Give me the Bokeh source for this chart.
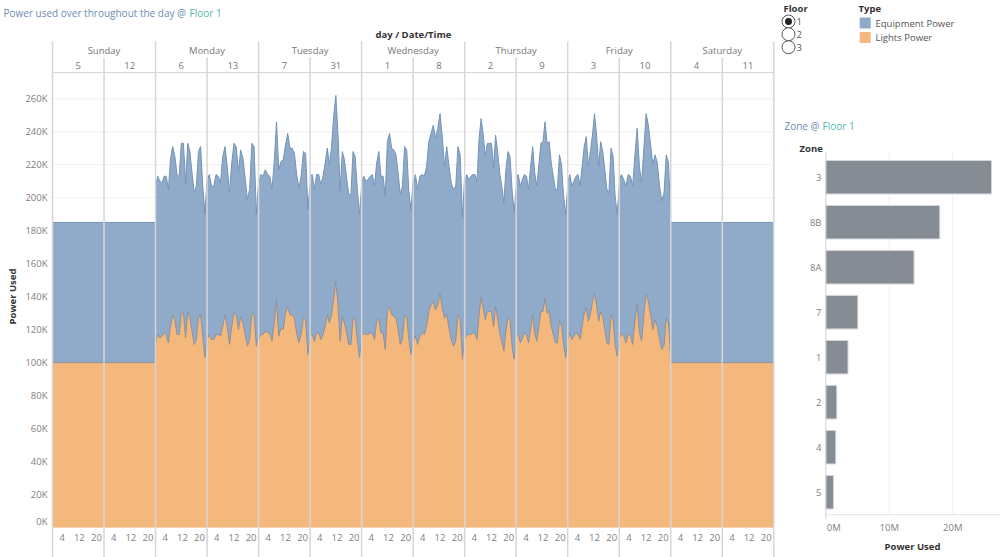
import numpy as np
from bokeh.plotting import figure
from bokeh.models import Range1d
from bokeh.layouts import row
from bokeh.embed import file_html
from bokeh.resources import INLINE
from bokeh.core.properties import value

# ---------------- data ----------------
days = ["Sunday", "Monday", "Tuesday", "Wednesday", "Thursday", "Friday", "Saturday"]
dates = ["5", "12", "6", "13", "7", "31", "1", "8", "2", "9", "3", "10", "4", "11"]
hour_ticks = [4, 12, 20]

# Power used (K) per panel: total (equipment + lights) and lights
sun5_total = [185, 185]
sun5_lights = [100, 100]
sun12_total = [185, 185]
sun12_lights = [100, 100]
mon6_total = [207, 213, 210, 209, 213, 213, 205, 224, 231, 225, 214, 213, 233, 233, 208, 233, 228, 215, 203, 207, 228, 231, 207, 190, 211]
mon6_lights = [112, 117, 115, 116, 118, 117, 112, 122, 129, 126, 117, 117, 130, 130, 115, 131, 127, 119, 111, 114, 127, 129, 116, 103, 116]
mon13_total = [211, 214, 207, 207, 214, 213, 209, 225, 231, 219, 203, 221, 233, 231, 216, 229, 224, 212, 199, 205, 233, 231, 190, 209]
mon13_lights = [114, 117, 114, 114, 117, 117, 116, 122, 129, 122, 111, 122, 130, 129, 120, 128, 124, 117, 110, 114, 130, 129, 110, 116]
tue7_total = [208, 214, 213, 217, 214, 213, 205, 222, 246, 217, 222, 223, 232, 239, 230, 230, 227, 214, 206, 213, 228, 227, 193, 208]
tue7_lights = [114, 117, 117, 119, 118, 118, 113, 124, 138, 116, 121, 120, 130, 134, 129, 129, 127, 118, 112, 117, 127, 126, 105, 114]
tue31_total = [213, 214, 205, 214, 214, 208, 213, 221, 230, 220, 231, 250, 262, 238, 204, 228, 223, 212, 202, 202, 228, 225, 205, 190, 207]
tue31_lights = [117, 117, 113, 118, 118, 114, 117, 122, 129, 124, 129, 139, 149, 135, 113, 128, 124, 118, 111, 111, 127, 126, 114, 103, 114]
wed1_total = [209, 213, 210, 211, 213, 214, 207, 221, 228, 213, 213, 201, 234, 239, 230, 229, 226, 215, 202, 207, 231, 229, 204, 192, 211]
wed1_lights = [116, 118, 117, 117, 118, 118, 114, 125, 127, 118, 118, 108, 131, 134, 129, 128, 127, 120, 111, 114, 129, 128, 114, 105, 116]
wed8_total = [207, 214, 205, 213, 214, 213, 219, 234, 239, 244, 236, 242, 251, 237, 219, 231, 219, 209, 205, 207, 231, 226, 188, 213]
wed8_lights = [113, 116, 111, 116, 118, 117, 122, 131, 135, 137, 132, 135, 142, 133, 127, 129, 121, 114, 110, 113, 129, 126, 102, 114]
thu2_total = [208, 214, 211, 213, 214, 214, 210, 236, 248, 238, 225, 233, 233, 233, 218, 238, 228, 215, 207, 197, 217, 228, 225, 205, 191, 206]
thu2_lights = [114, 117, 117, 117, 118, 118, 114, 129, 140, 133, 126, 131, 131, 131, 122, 134, 127, 118, 113, 107, 119, 127, 126, 110, 102, 112]
thu9_total = [212, 214, 207, 211, 214, 213, 205, 219, 231, 215, 207, 220, 233, 234, 246, 233, 234, 221, 213, 205, 205, 226, 220, 201, 190, 207]
thu9_lights = [117, 117, 112, 115, 118, 117, 112, 120, 129, 118, 113, 122, 131, 131, 139, 130, 131, 122, 117, 112, 112, 126, 122, 111, 103, 113]
fri3_total = [209, 214, 207, 210, 213, 214, 207, 219, 231, 237, 219, 228, 238, 251, 238, 219, 234, 228, 217, 205, 203, 230, 225, 201, 190, 207]
fri3_lights = [114, 118, 114, 116, 118, 117, 114, 122, 130, 133, 125, 129, 137, 142, 135, 125, 131, 128, 120, 112, 111, 129, 126, 111, 104, 113]
fri10_total = [211, 214, 211, 207, 214, 213, 207, 226, 242, 219, 209, 230, 251, 244, 232, 220, 226, 221, 207, 198, 203, 226, 221, 188]
fri10_lights = [114, 118, 116, 112, 117, 117, 111, 125, 136, 118, 113, 129, 142, 137, 129, 120, 126, 122, 114, 108, 110, 127, 124, 101]
sat4_total = [185, 185]
sat4_lights = [100, 100]
sat11_total = [185, 185]
sat11_lights = [100, 100]

zones = ["3", "8B", "8A", "7", "1", "2", "4", "5"]
zone_power = [26.1, 17.95, 13.9, 5.04, 3.5, 1.73, 1.57, 1.21]  # M

y_ticks = list(range(0, 261, 20))
x_ticks_zone = [0, 10, 20]

panel_totals = [sun5_total, sun12_total, mon6_total, mon13_total, tue7_total, tue31_total,
                wed1_total, wed8_total, thu2_total, thu9_total, fri3_total, fri10_total,
                sat4_total, sat11_total]
panel_lights = [sun5_lights, sun12_lights, mon6_lights, mon13_lights, tue7_lights, tue31_lights,
                wed1_lights, wed8_lights, thu2_lights, thu9_lights, fri3_lights, fri10_lights,
                sat4_lights, sat11_lights]

# ---------------- style ----------------
FONT = value("Open Sans")
BLUE = "#8fabc9"
ORANGE = "#f5b87c"
BLUE_LINE = "#7593b8"
ORANGE_LINE = "#8e9096"
SEP = "#d6d6d6"
TITLE_C = "#6d8db2"
TEAL = "#52b9ab"
TICK_C = "#808080"
DARK = "#333333"

PW = 24  # hours per panel
NP = len(dates)

# page-pixel -> data helpers (only used to place layout texts / rules)
Y0_PAGE, Y_SCALE = 527.0, 1.649          # page y of 0K, px per K
X0_PAGE, X_SCALE = 52.0, 721.3 / (NP * PW)


def py1(page_y):
    return (Y0_PAGE - page_y) / Y_SCALE


def px1(page_x):
    return (page_x - X0_PAGE) / X_SCALE


def txt(p, x, y, t, size="9.5px", color=TICK_C, align="left", bold=False, angle=0.0,
        x_offset=0, y_offset=0):
    p.text(x=x, y=y, text=t, text_align=align, text_baseline="middle", text_font=FONT,
           text_font_size=size, text_color=color,
           text_font_style="bold" if bold else "normal", angle=angle,
           x_offset=x_offset, y_offset=y_offset)


p1 = figure(width=780, height=557, x_range=Range1d(px1(0), px1(780)),
            y_range=Range1d(py1(557), py1(0)),
            x_axis_location=None, y_axis_location=None,
            output_backend="svg", toolbar_location=None,
            min_border_left=0, min_border_right=0, min_border_top=0, min_border_bottom=0)
p1.outline_line_color = None
p1.xgrid.visible = False
p1.ygrid.visible = False

# horizontal gridlines at the y ticks
p1.segment(x0=0, y0=y_ticks, x1=NP * PW, y1=y_ticks, line_color="#efefef", line_width=1)

for k in range(NP):
    tot = panel_totals[k]
    lig = panel_lights[k]
    xs = np.linspace(k * PW, (k + 1) * PW, len(tot))
    p1.varea(x=xs, y1=0, y2=lig, fill_color=ORANGE)
    p1.varea(x=xs, y1=lig, y2=tot, fill_color=BLUE)
    p1.line(x=xs, y=tot, line_color=BLUE_LINE, line_width=1)
    p1.line(x=xs, y=lig, line_color=ORANGE_LINE, line_width=1)

# header / separators
day_x = [2 * PW * d for d in range(len(days) + 1)]
date_x = [2 * PW * d + PW for d in range(len(days))]
p1.segment(x0=day_x, y0=py1(41), x1=day_x, y1=py1(557), line_color=SEP, line_width=1.5)
p1.segment(x0=date_x, y0=py1(57), x1=date_x, y1=py1(557), line_color=SEP, line_width=1.5)
p1.segment(x0=[0], y0=[py1(72)], x1=[NP * PW], y1=[py1(72)], line_color=SEP, line_width=1)

txt(p1, [2 * PW * d + PW for d in range(len(days))], py1(49.5), days, color="#777777", align="center")
txt(p1, [PW * k + PW / 2 for k in range(NP)], py1(65), dates, color="#777777", align="center")
hx = [PW * k + h + 0.5 for k in range(NP) for h in hour_ticks]
ht = [str(h) for k in range(NP) for h in hour_ticks]
txt(p1, hx, py1(537), ht, align="center")
txt(p1, [px1(413)], [py1(33.5)], ["day / Date/Time"], color=DARK, align="center", bold=True)

# y axis labels (edge label nudged inside, as in the reference) and title
y_lab_off = [-6 if t == 0 else 0 for t in y_ticks]
txt(p1, px1(47), y_ticks, [f"{t}K" for t in y_ticks], align="right", y_offset=y_lab_off)
txt(p1, [px1(12)], [py1(296)], ["Power Used"], color=DARK, align="center", bold=True,
    angle=np.pi / 2)

# chart title
txt(p1, [px1(3)], [py1(12.5)], ["Power used over throughout the day @"], size="10px",
    color=TITLE_C)
txt(p1, [px1(189)], [py1(12.5)], ["Floor 1"], size="10px", color=TEAL)

# ---------------- zone bar chart ----------------
ZX0, ZXS = 825.3, 6.35      # page x of 0M, px per M
ZY0, ZYS = 176.7, 45.0      # page y of first band centre, px per band


def px2(page_x):
    return (page_x - ZX0) / ZXS


def py2(page_y):
    return (page_y - ZY0) / ZYS


p2 = figure(width=220, height=557, x_range=Range1d(px2(780), px2(1000)),
            y_range=Range1d(py2(557), py2(0)),
            x_axis_location=None, y_axis_location=None,
            output_backend="svg", toolbar_location=None,
            min_border_left=0, min_border_right=0, min_border_top=0, min_border_bottom=0)
p2.outline_line_color = None
p2.xgrid.visible = False
p2.ygrid.visible = False

nz = len(zones)
zy = list(range(nz))
p2.segment(x0=x_ticks_zone[1:], y0=-0.55, x1=x_ticks_zone[1:], y1=nz - 0.5,
           line_color="#efefef", line_width=1)
p2.hbar(y=zy, left=0, right=zone_power, height=0.745, fill_color="#868c93",
        line_color="#d5d8db", line_width=1)
p2.segment(x0=[0], y0=[-0.55], x1=[0], y1=[nz - 0.42], line_color="#d0d0d0", line_width=1)
p2.segment(x0=[0], y0=[nz - 0.5], x1=[px2(1000)], y1=[nz - 0.5],
           line_color="#e3e3e3", line_width=1)
txt(p2, px2(821), zy, zones, align="right")
txt(p2, [px2(799)], [py2(148)], ["Zone"], color=DARK, bold=True)
x_lab_off = [8 if t == 0 else 0 for t in x_ticks_zone]
txt(p2, x_ticks_zone, py2(527), [f"{t}M" for t in x_ticks_zone], align="center",
    x_offset=x_lab_off)
txt(p2, [px2(912)], [py2(546)], ["Power Used"], color=DARK, align="center", bold=True)
txt(p2, [px2(784)], [py2(125.5)], ["Zone @"], size="10px", color=TITLE_C)
txt(p2, [px2(822)], [py2(125.5)], ["Floor 1"], size="10px", color=TEAL)

# Floor selector and Type legend
floors = ["1", "2", "3"]
fy = [py2(21), py2(33.7), py2(46.7)]
txt(p2, [px2(783)], [py2(8)], ["Floor"], color=DARK, bold=True)
p2.scatter(x=px2(788), y=fy, size=13, marker="circle", fill_color="white",
           line_color="#555555", line_width=1)
p2.scatter(x=[px2(788)], y=[fy[0]], size=7, marker="circle", fill_color="#222222",
           line_color=None)
txt(p2, px2(796), fy, floors, color="#555555")

types = ["Equipment Power", "Lights Power"]
ty = [py2(22.5), py2(37)]
txt(p2, [px2(858)], [py2(8)], ["Type"], color=DARK, bold=True)
p2.scatter(x=px2(864.7), y=ty, size=11, marker="square", fill_color=[BLUE, ORANGE],
           line_color=None)
txt(p2, px2(875), ty, types, color="#555555")

layout = row(p1, p2, spacing=0)
open("out.html", "w").write(file_html(layout, INLINE))
